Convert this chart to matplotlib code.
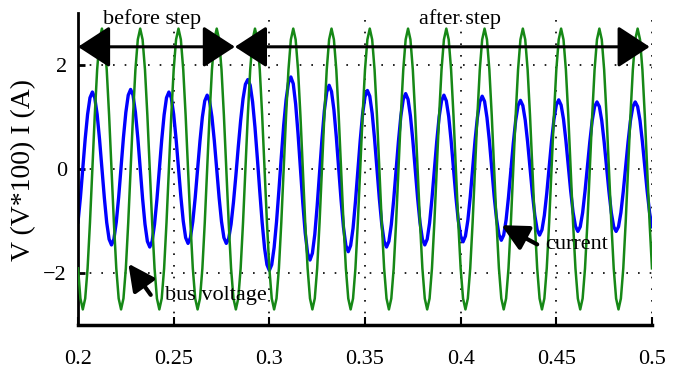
import matplotlib
matplotlib.use("Agg")
import matplotlib.pyplot as plt
import numpy as np

T_START = 0.2
T_STEP = 0.00125

BUS_VOLTAGE_ROWS = [
    [-1.91, -2.49, -2.70, -2.49, -1.91, -1.03, 0.00, 1.03, 1.91, 2.49, 2.70, 2.49, 1.91, 1.03, 0.00, -1.03],
    [-1.91, -2.49, -2.70, -2.49, -1.91, -1.03, 0.00, 1.03, 1.91, 2.49, 2.70, 2.49, 1.91, 1.03, 0.00, -1.03],
    [-1.91, -2.49, -2.70, -2.49, -1.91, -1.03, 0.00, 1.03, 1.91, 2.49, 2.70, 2.49, 1.91, 1.03, 0.00, -1.03],
    [-1.91, -2.49, -2.70, -2.49, -1.91, -1.03, 0.00, 1.03, 1.91, 2.49, 2.70, 2.49, 1.91, 1.03, 0.00, -1.03],
    [-1.91, -2.49, -2.70, -2.49, -1.91, -1.03, 0.00, 1.03, 1.91, 2.49, 2.70, 2.49, 1.91, 1.03, 0.00, -1.03],
    [-1.91, -2.49, -2.70, -2.49, -1.91, -1.03, 0.00, 1.03, 1.91, 2.49, 2.70, 2.49, 1.91, 1.03, 0.00, -1.03],
    [-1.91, -2.49, -2.70, -2.49, -1.91, -1.03, 0.00, 1.03, 1.91, 2.49, 2.70, 2.49, 1.91, 1.03, 0.00, -1.03],
    [-1.91, -2.49, -2.70, -2.49, -1.91, -1.03, 0.00, 1.03, 1.91, 2.49, 2.70, 2.49, 1.91, 1.03, 0.00, -1.03],
    [-1.91, -2.49, -2.70, -2.49, -1.91, -1.03, 0.00, 1.03, 1.91, 2.49, 2.70, 2.49, 1.91, 1.03, 0.00, -1.03],
    [-1.91, -2.49, -2.70, -2.49, -1.91, -1.03, 0.00, 1.03, 1.91, 2.49, 2.70, 2.49, 1.91, 1.03, 0.00, -1.03],
    [-1.91, -2.49, -2.70, -2.49, -1.91, -1.03, 0.00, 1.03, 1.91, 2.49, 2.70, 2.49, 1.91, 1.03, 0.00, -1.03],
    [-1.91, -2.49, -2.70, -2.49, -1.91, -1.03, 0.00, 1.03, 1.91, 2.49, 2.70, 2.49, 1.91, 1.03, 0.00, -1.03],
    [-1.91, -2.49, -2.70, -2.49, -1.91, -1.03, 0.00, 1.03, 1.91, 2.49, 2.70, 2.49, 1.91, 1.03, 0.00, -1.03],
    [-1.91, -2.49, -2.70, -2.49, -1.91, -1.03, 0.00, 1.03, 1.91, 2.49, 2.70, 2.49, 1.91, 1.03, 0.00, -1.03],
    [-1.91, -2.49, -2.70, -2.49, -1.91, -1.03, 0.00, 1.03, 1.91, 2.49, 2.70, 2.49, 1.91, 1.03, 0.00, -1.03],
    [-1.91],
]

CURRENT_ROWS = [
    [-1.02, -0.55, 0.02, 0.58, 1.05, 1.37, 1.48, 1.37, 1.05, 0.57, 0.01, -0.55, -1.03, -1.35, -1.46, -1.35],
    [-1.02, -0.54, 0.04, 0.61, 1.09, 1.42, 1.53, 1.42, 1.09, 0.60, 0.02, -0.57, -1.06, -1.39, -1.50, -1.39],
    [-1.06, -0.58, -0.01, 0.56, 1.04, 1.37, 1.48, 1.37, 1.05, 0.58, 0.03, -0.53, -1.00, -1.32, -1.43, -1.32],
    [-1.01, -0.55, -0.01, 0.54, 1.00, 1.31, 1.42, 1.31, 1.00, 0.54, -0.01, -0.55, -1.01, -1.32, -1.43, -1.34],
    [-1.06, -0.64, -0.13, 0.42, 0.93, 1.35, 1.63, 1.72, 1.61, 1.29, 0.80, 0.20, -0.43, -1.03, -1.52, -1.84],
    [-1.95, -1.84, -1.51, -1.02, -0.41, 0.23, 0.84, 1.33, 1.66, 1.77, 1.64, 1.25, 0.68, 0.01, -0.66, -1.23],
    [-1.62, -1.75, -1.62, -1.26, -0.71, -0.07, 0.57, 1.12, 1.48, 1.61, 1.49, 1.14, 0.62, 0.01, -0.60, -1.12],
    [-1.47, -1.59, -1.47, -1.14, -0.63, -0.04, 0.55, 1.06, 1.39, 1.51, 1.40, 1.07, 0.58, 0.01, -0.57, -1.06],
    [-1.39, -1.50, -1.39, -1.07, -0.59, -0.03, 0.54, 1.02, 1.34, 1.45, 1.34, 1.02, 0.55, -0.01, -0.56, -1.03],
    [-1.35, -1.46, -1.35, -1.04, -0.57, -0.02, 0.53, 1.00, 1.31, 1.42, 1.31, 1.01, 0.55, 0.01, -0.53, -0.99],
    [-1.29, -1.40, -1.29, -0.99, -0.54, 0.00, 0.54, 0.99, 1.29, 1.40, 1.30, 0.99, 0.55, 0.02, -0.52, -0.96],
    [-1.26, -1.37, -1.27, -0.98, -0.54, -0.03, 0.49, 0.93, 1.22, 1.32, 1.22, 0.94, 0.52, 0.03, -0.47, -0.89],
    [-1.17, -1.27, -1.17, -0.89, -0.47, 0.03, 0.53, 0.95, 1.23, 1.33, 1.23, 0.96, 0.55, 0.07, -0.42, -0.83],
    [-1.10, -1.20, -1.11, -0.84, -0.43, 0.05, 0.52, 0.93, 1.20, 1.29, 1.20, 0.93, 0.52, 0.05, -0.43, -0.84],
    [-1.11, -1.20, -1.11, -0.84, -0.43, 0.05, 0.52, 0.93, 1.20, 1.29, 1.20, 0.93, 0.52, 0.05, -0.43, -0.84],
    [-1.11],
]

X_TICKS = [0.2, 0.25, 0.3, 0.35, 0.4, 0.45, 0.5]
X_TICK_LABELS = ["0.2", "0.25", "0.3", "0.35", "0.4", "0.45", "0.5"]
Y_TICKS = [-2, 0, 2]
Y_TICK_LABELS = ["\u22122", "0", "2"]

STEP_TIME = 0.282

SERIF = ["Liberation Serif", "DejaVu Serif"]


def flatten(rows):
    return np.array([v for row in rows for v in row])


def main():
    plt.rcParams["font.family"] = SERIF

    voltage = flatten(BUS_VOLTAGE_ROWS)
    current = flatten(CURRENT_ROWS)
    t = T_START + T_STEP * np.arange(len(voltage))

    fig = plt.figure(figsize=(6.79, 3.76), dpi=100)
    ax = fig.add_axes([0.1149, 0.1356, 0.8453, 0.8298])

    ax.plot(t, current, color="#0000ff", lw=2.4, zorder=2)
    ax.plot(t, voltage, color="#168816", lw=1.8, zorder=3)

    ax.set_xlim(0.2, 0.5)
    ax.set_ylim(-3, 3)
    ax.set_xticks(X_TICKS)
    ax.set_xticklabels(X_TICK_LABELS)
    ax.set_yticks(Y_TICKS)
    ax.set_yticklabels(Y_TICK_LABELS)

    ax.grid(True, color="black", linestyle=(0, (1, 6)), linewidth=1.2)
    for side in ("top", "right"):
        ax.spines[side].set_visible(False)
    ax.spines["left"].set_linewidth(2)
    ax.spines["bottom"].set_linewidth(2.5)
    ax.tick_params(axis="x", direction="in", length=6, width=1.5, pad=18, labelsize=16)
    ax.tick_params(axis="y", direction="in", length=5, width=2, pad=8, labelsize=16)

    fig.text(24 / 679, 1 - 170 / 376, "V (V*100) I (A)", rotation=90,
             ha="center", va="center", fontsize=20)

    # before / after step arrows
    y_arrow = 2.35
    big = dict(arrowstyle="<|-|>,head_length=2.0,head_width=1.3", mutation_scale=10,
               lw=2.2, color="black", shrinkA=0, shrinkB=0)
    ax.annotate("", xy=(0.2, y_arrow), xytext=(STEP_TIME, y_arrow), arrowprops=big,
                annotation_clip=False)
    ax.annotate("", xy=(STEP_TIME, y_arrow), xytext=(0.4988, y_arrow), arrowprops=big,
                annotation_clip=False)
    ax.text(0.2387, 2.88, "before step", ha="center", va="center", fontsize=16)
    ax.text(0.3996, 2.88, "after step", ha="center", va="center", fontsize=16)

    small = dict(arrowstyle="-|>,head_length=1.6,head_width=0.8", mutation_scale=10,
                 lw=3, color="black", shrinkA=0, shrinkB=0)
    ax.annotate("", xy=(0.2263, -1.82), xytext=(0.2380, -2.42), arrowprops=small)
    ax.text(0.2455, -2.43, "bus voltage", ha="left", va="center", fontsize=16)

    ax.annotate("", xy=(0.4213, -1.08), xytext=(0.4400, -1.45), arrowprops=small)
    ax.text(0.4440, -1.46, "current", ha="left", va="center", fontsize=16)

    fig.savefig("out.png", dpi=100)
    plt.close(fig)


if __name__ == "__main__":
    main()
